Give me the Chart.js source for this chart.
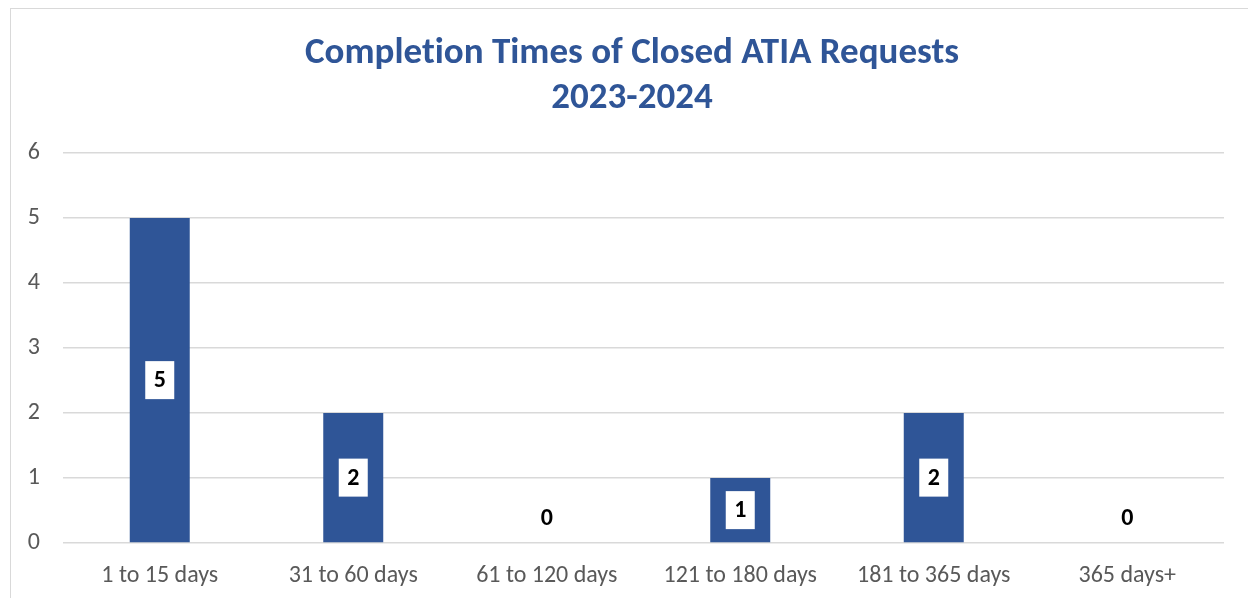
<!DOCTYPE html>
<html>
<head>
<meta charset="utf-8">
<script src="https://cdn.jsdelivr.net/npm/chart.js@4"></script>
<style>
  html, body { margin: 0; padding: 0; background: #fff; overflow: hidden; }
  #wrap { position: relative; width: 1248px; height: 598px; }
  #frame { position: absolute; left: 10px; top: 8px; width: 1400px; height: 800px; border: 1px solid #d9d9d9; box-sizing: border-box; }
  #barChart { position: absolute; left: 0; top: 0; }
  #title {
    position: absolute; left: 16px; top: 28px; width: 1232px;
    text-align: center; color: #2F5597;
    font: bold 37px/45px Carlito, Calibri, 'Open Sans', sans-serif;
    font-variant-ligatures: none;
  }
</style>
</head>
<body>
<div id="wrap">
  <div id="frame"></div>
  <canvas id="barChart" width="1248" height="598"></canvas>
  <div id="title"></div>
</div>
<script>
var categories = ["1 to 15 days", "31 to 60 days", "61 to 120 days", "121 to 180 days", "181 to 365 days", "365 days+"];
var requests = [5, 2, 0, 1, 2, 0];
var yTicks = [0, 1, 2, 3, 4, 5, 6];
var titleLines = ["Completion Times of Closed ATIA Requests", "2023-2024"];

var fontFamily = "Carlito, Calibri, 'Open Sans', sans-serif";

// title sits centred on the whole frame, which runs past the right edge
document.getElementById("title").innerHTML = titleLines.join("<br>");

// labels in white boxes at the middle of each bar
var valueLabels = {
  id: 'valueLabels',
  afterDatasetsDraw: function (chart) {
    var ctx = chart.ctx;
    var meta = chart.getDatasetMeta(0);
    ctx.save();
    ctx.font = "bold 24px " + fontFamily;
    ctx.textAlign = 'center';
    ctx.textBaseline = 'middle';
    meta.data.forEach(function (bar, i) {
      var v = requests[i];
      var cy;
      if (v > 0) {
        cy = (bar.y + bar.base) / 2;
        ctx.fillStyle = '#ffffff';
        ctx.fillRect(bar.x - 14.5, cy - 19, 29, 38);
      } else {
        cy = bar.base - 25;
      }
      ctx.fillStyle = '#000000';
      ctx.fillText(String(v), bar.x, cy + 1);
    });
    ctx.restore();
  }
};

var ctxB = document.getElementById("barChart").getContext('2d');
var myBarChart = new Chart(ctxB, {
  type: 'bar',
  data: {
    labels: categories,
    datasets: [{
      label: "Requests",
      data: requests,
      backgroundColor: '#2F5597',
      borderWidth: 0,
      categoryPercentage: 1,
      barPercentage: 0.31
    }]
  },
  options: {
    responsive: false,
    animation: false,
    layout: { padding: { left: 0, right: 24, top: 153, bottom: 0 } },
    plugins: {
      legend: { display: false },
      tooltip: { enabled: false },
      title: { display: false }
    },
    scales: {
      x: {
        grid: { display: false, drawTicks: false },
        border: { display: false },
        ticks: { color: '#595959', font: { family: fontFamily, size: 24 }, padding: 19, maxRotation: 0 },
        afterFit: function (axis) { axis.height = 55; }
      },
      y: {
        min: 0,
        max: 6,
        afterBuildTicks: function (axis) {
          axis.ticks = yTicks.map(function (t) { return { value: t }; });
        },
        grid: { color: '#d9d9d9', lineWidth: 1.5, drawTicks: false },
        border: { display: false },
        ticks: { color: '#595959', font: { family: fontFamily, size: 24 }, padding: 23 },
        afterFit: function (axis) { axis.width = 63; }
      }
    }
  },
  plugins: [valueLabels]
});
</script>
</body>
</html>
